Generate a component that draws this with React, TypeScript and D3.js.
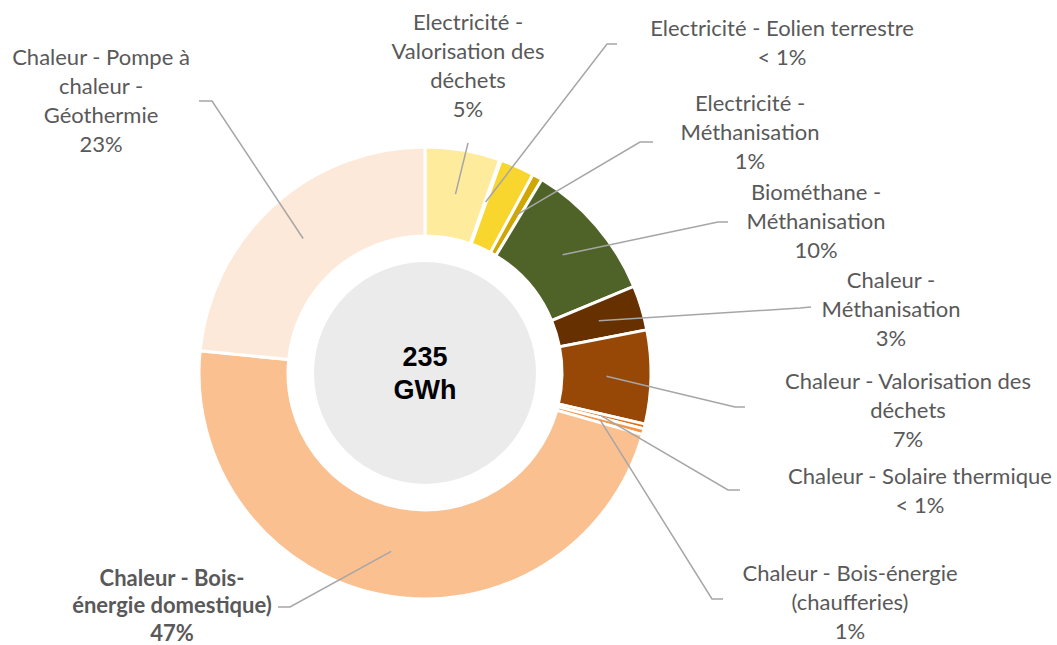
import React, { useEffect, useRef } from 'react';
import * as d3 from 'd3';

// slices, clockwise from 12 o'clock (GWh)
const categories = [
  'Electricité - Valorisation des déchets',
  'Electricité - Eolien terrestre',
  'Electricité - Solaire',
  'Electricité - Méthanisation',
  'Biométhane - Méthanisation',
  'Chaleur - Méthanisation',
  'Chaleur - Valorisation des déchets',
  'Chaleur - Solaire thermique',
  'Chaleur - Bois-énergie (chaufferies)',
  'Chaleur - Bois-énergie domestique)',
  'Chaleur - Pompe à chaleur - Géothermie',
];
const values = [12.6, 0.25, 5.75, 1.7, 23.7, 7.5, 15.7, 0.8, 1.0, 110.7, 55.0];
const colors = [
  '#FFEB9C', '#FFE26A', '#F9D62E', '#D1A600', '#4F6228', '#663000',
  '#974706', '#E46C0A', '#F79646', '#FAC090', '#FDE9D9',
];
const labelLines = [
  ['Electricité -', 'Valorisation des', 'déchets'],
  ['Electricité - Eolien terrestre'],
  [],
  ['Electricité -', 'Méthanisation'],
  ['Biométhane -', 'Méthanisation'],
  ['Chaleur -', 'Méthanisation'],
  ['Chaleur - Valorisation des', 'déchets'],
  ['Chaleur - Solaire thermique'],
  ['Chaleur - Bois-énergie', '(chaufferies)'],
  ['Chaleur - Bois-', 'énergie domestique)'],
  ['Chaleur - Pompe à', 'chaleur -', 'Géothermie'],
];
const percentLabels = ['5%', '< 1%', '', '1%', '10%', '3%', '7%', '< 1%', '1%', '47%', '23%'];
const totalLabel = ['235', 'GWh'];

// label placement: text centre x, first line y, line step, leader elbow and end
const labelLayout: ({ x: number; y: number; step?: number; elbow: [number, number]; end: [number, number]; bold?: boolean } | null)[] = [
  { x: 468, y: 22, elbow: [468, 143], end: [468, 143] },
  { x: 782, y: 28, elbow: [607, 44], end: [617, 44] },
  null,
  { x: 750, y: 103, elbow: [640, 142], end: [653, 142] },
  { x: 816, y: 192, elbow: [718, 222], end: [728, 222] },
  { x: 891, y: 280, elbow: [800, 308], end: [811, 307] },
  { x: 908, y: 381, elbow: [735, 407], end: [745, 407] },
  { x: 920, y: 476, elbow: [728, 490], end: [740, 490] },
  { x: 850, y: 573, elbow: [712, 599], end: [723, 599] },
  { x: 172, y: 578, step: 27.5, elbow: [290, 607], end: [278, 607], bold: true },
  { x: 101, y: 57, elbow: [212, 101], end: [199, 101] },
];

const App = () => {
  const svgRef = useRef<SVGSVGElement>(null);

  useEffect(() => {
    const width = 1057;
    const height = 645;
    const cx = 425;
    const cy = 373;
    const outerR = 226;
    const innerR = 137;
    const lineH = 29;

    const svg = d3.select(svgRef.current);
    svg.selectAll('*').remove();
    svg.attr('width', width).attr('height', height);

    const pie = d3.pie<number>().sort(null).startAngle(0).endAngle(2 * Math.PI);
    const arcs = pie(values);
    const arc = d3.arc<d3.PieArcDatum<number>>().innerRadius(innerR).outerRadius(outerR);

    const g = svg.append('g').attr('transform', `translate(${cx},${cy})`);

    g.selectAll('path.slice')
      .data(arcs)
      .enter()
      .append('path')
      .attr('class', 'slice')
      .attr('d', arc)
      .attr('fill', (d, i) => colors[i])
      .attr('stroke', '#fff')
      .attr('stroke-width', 3)
      .attr('stroke-linejoin', 'miter');

    // centre disc
    g.append('circle').attr('r', 111).attr('fill', '#EBEBEB');

    g.selectAll('text.total')
      .data(totalLabel)
      .enter()
      .append('text')
      .attr('class', 'total')
      .attr('x', 0)
      .attr('y', (d, i) => -7 + i * 33)
      .attr('text-anchor', 'middle')
      .attr('font-family', '"Liberation Sans", Arial, sans-serif')
      .attr('font-weight', 'bold')
      .attr('font-size', 27)
      .attr('fill', '#000')
      .text(d => d);

    // leader lines
    arcs.forEach((a, i) => {
      const lay = labelLayout[i];
      if (!lay) return;
      const [px, py] = arc.centroid(a);
      const pts: [number, number][] = [[px + cx, py + cy], lay.elbow, lay.end];
      svg.append('path')
        .attr('d', d3.line()(pts))
        .attr('fill', 'none')
        .attr('stroke', '#A6A6A6')
        .attr('stroke-width', 1.5);
    });

    // labels
    arcs.forEach((a, i) => {
      const lay = labelLayout[i];
      if (!lay) return;
      const lines = [...labelLines[i], percentLabels[i]];
      const step = lay.step ?? lineH;
      const t = svg.append('text')
        .attr('text-anchor', 'middle')
        .attr('font-family', 'Lato, "Open Sans", sans-serif')
        .attr('font-size', 22)
        .attr('font-weight', lay.bold ? 'bold' : 'normal')
        .attr('fill', '#595959');
      lines.forEach((l, k) => {
        t.append('tspan')
          .attr('x', lay.x)
          .attr('y', lay.y + k * step)
          .attr('dy', '0.35em')
          .text(l);
      });
    });
  }, []);

  return (
    <div style={{ position: 'absolute', left: 0, top: 0, width: 1057, height: 645, background: '#fff' }}>
      <svg ref={svgRef} style={{ display: 'block' }}></svg>
    </div>
  );
};

export default App;
